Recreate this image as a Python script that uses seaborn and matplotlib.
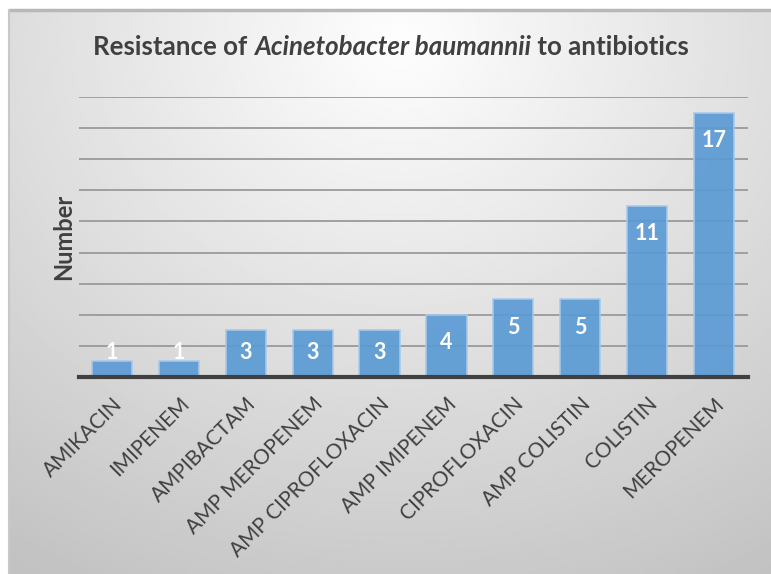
import numpy as np
import pandas as pd
import matplotlib
matplotlib.use("Agg")
import matplotlib.pyplot as plt
import seaborn as sns

antibiotics = ["AMIKACIN", "IMIPENEM", "AMPIBACTAM", "AMP MEROPENEM", "AMP CIPROFLOXACIN",
               "AMP IMIPENEM", "CIPROFLOXACIN", "AMP COLISTIN", "COLISTIN", "MEROPENEM"]
counts = [1, 1, 3, 3, 3, 4, 5, 5, 11, 17]

df = pd.DataFrame({"antibiotic": antibiotics, "count": counts})

sns.set_theme(style="white")
plt.rcParams['font.family'] = ['Lato', 'DejaVu Sans']

W, H = 771, 574
fig = plt.figure(figsize=(W / 100, H / 100), dpi=100)
fig.patch.set_facecolor("white")

# background gradient panel
bg = fig.add_axes([9 / W, 0, 1 - 9 / W, 1 - 10 / H], zorder=-10)
gx = np.linspace(9, W, 300)
gy = np.linspace(10, H, 240)
X, Y = np.meshgrid(gx, gy)
d = np.sqrt(((X - 400) / 1.0) ** 2 + ((Y - 40) * 1.15) ** 2)
val = np.clip(0.995 - 0.23 * (d / 700), 0.76, 1.0)
bg.imshow(val, cmap="gray", vmin=0, vmax=1, aspect="auto", extent=[0, 1, 0, 1], interpolation="bilinear")
bg.set_axis_off()
bg.plot([0, 1], [1, 1], color="#b8b8b8", lw=2.5, transform=bg.transAxes, clip_on=False)
bg.plot([0, 0], [0, 1], color="#c8c8c8", lw=1.5, transform=bg.transAxes, clip_on=False)

ax = fig.add_axes([78.5 / W, 1 - 377 / H, (747.5 - 78.5) / W, (377 - 97) / H])
ax.patch.set_alpha(0)
sns.barplot(data=df, x="antibiotic", y="count", ax=ax, color="#5b9bd5", width=0.6,
            saturation=1, edgecolor="#a9c9ea", linewidth=1.2, alpha=0.92, zorder=3)
ax.set_ylim(0, 18)
ax.set_xlim(-0.5, len(antibiotics) - 0.5)
ax.set_yticks(np.arange(2, 19, 2))
ax.set_yticklabels([])
ax.tick_params(axis="y", length=0)
ax.grid(axis="y", color="#9a9a9a", lw=1.3, zorder=0)
ax.set_axisbelow(True)
for s in ["top", "right", "left"]:
    ax.spines[s].set_visible(False)
ax.spines["bottom"].set_color("#404040")
ax.spines["bottom"].set_linewidth(3)
ax.spines["bottom"].set_zorder(5)

ax.set_xlabel("")
ax.set_ylabel("Number", fontsize=17, fontweight="bold", color="#404040", labelpad=-1)
ax.tick_params(axis="x", length=0, pad=12)
ax.set_xticks(range(len(antibiotics)))
ax.set_xticklabels(antibiotics, rotation=45, ha="right", rotation_mode="anchor",
                   fontsize=15, color="#404040")

for i, v in enumerate(counts):
    ax.text(i, max(v - 1.8, 1.6), str(v), ha="center", va="center", color="white",
            fontsize=15.5, fontweight="bold", zorder=6)

# title composed of three runs, centred as a whole
fs = 18.6
parts = [("Resistance of ", "normal"), ("Acinetobacter baumannii", "italic"), (" to antibiotics", "normal")]
renderer = fig.canvas.get_renderer()
texts = []
for s, st in parts:
    t = fig.text(0, 1 - 47 / H, s, fontsize=fs, fontweight="bold", fontstyle=st,
                 color="#404040", ha="left", va="center")
    texts.append(t)
widths = [t.get_window_extent(renderer).width for t in texts]
total = sum(widths)
x0 = 391 - total / 2
for t, w in zip(texts, widths):
    t.set_x(x0 / W)
    x0 += w

fig.savefig("out.png", dpi=100)
